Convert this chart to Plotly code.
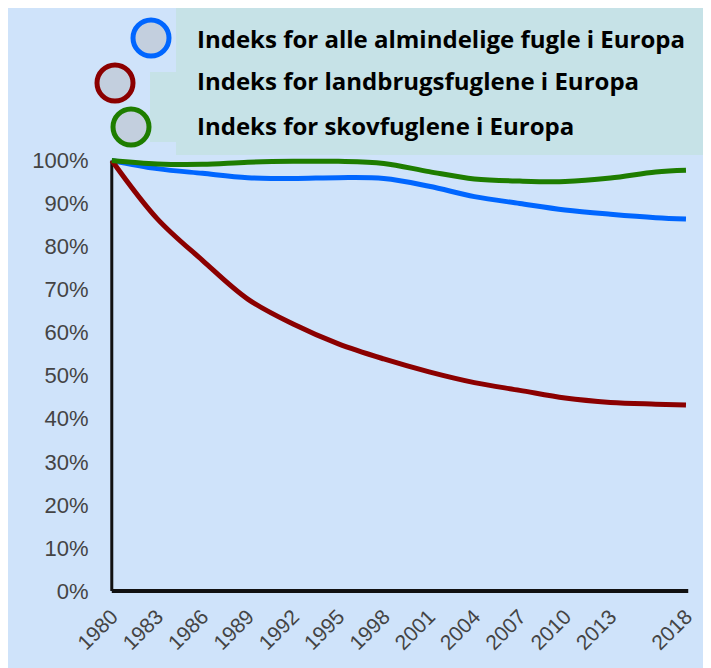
import plotly.graph_objects as go

# ---------------- data ----------------
years = [1980, 1983, 1986, 1989, 1992, 1995, 1998, 2001, 2004, 2007, 2010, 2013, 2016, 2018]
all_birds = [100, 98.1, 97.0, 96.0, 95.8, 96.0, 95.8, 94.0, 91.6, 90.0, 88.5, 87.5, 86.7, 86.4]
farm_birds = [100, 86.5, 76.8, 67.8, 62.0, 57.4, 53.9, 50.9, 48.4, 46.6, 44.8, 43.8, 43.4, 43.2]
forest_birds = [100, 99.2, 99.1, 99.6, 99.8, 99.8, 99.3, 97.4, 95.7, 95.2, 95.1, 95.9, 97.3, 97.7]

series_names = [
    "Indeks for alle almindelige fugle i Europa",
    "Indeks for landbrugsfuglene i Europa",
    "Indeks for skovfuglene i Europa",
]
x_tick_vals = [1980, 1983, 1986, 1989, 1992, 1995, 1998, 2001, 2004, 2007, 2010, 2013, 2018]
y_tick_vals = [0, 10, 20, 30, 40, 50, 60, 70, 80, 90, 100]
y_tick_text = [f"{v}%" for v in y_tick_vals]

# ---------------- style ----------------
OFF = 8  # page body margin
W, H = 711 - OFF, 668 - OFF
L, R, T, B = 108 - OFF, 22, 157 - OFF, 74
PW, PH = W - L - R, H - T - B
BG = "#CFE3FA"
TEAL = "#C6E2E7"
COLORS = ["#0066FF", "#8B0000", "#1E7D00"]


def px(xp):  # window pixel -> paper x
    return (xp - OFF - L) / PW


def py(yp):  # window pixel -> paper y
    return (H - B - (yp - OFF)) / PH


fig = go.Figure()
for name, vals, col in zip(series_names, [all_birds, farm_birds, forest_birds], COLORS):
    fig.add_trace(go.Scatter(x=years, y=vals, mode="lines", name=name,
                             line=dict(color=col, width=5, shape="spline", smoothing=1.0),
                             showlegend=False))

shapes = []
# legend box
shapes.append(dict(type="rect", xref="paper", yref="paper", x0=px(176), x1=px(W + OFF + 5),
                   y0=py(0), y1=py(155), fillcolor=TEAL, line=dict(width=0), layer="below"))
shapes.append(dict(type="rect", xref="paper", yref="paper", x0=px(150), x1=px(177),
                   y0=py(72), y1=py(142), fillcolor=TEAL, line=dict(width=0), layer="below"))
# axis lines
shapes.append(dict(type="line", xref="x", yref="y", x0=1980, x1=1980, y0=0, y1=100,
                   line=dict(color="#111111", width=3), layer="below"))
shapes.append(dict(type="line", xref="x", yref="y", x0=1980, x1=2018.15, y0=0, y1=0,
                   line=dict(color="#111111", width=4), layer="below"))
# legend circles
circles = [(151, 38), (115, 83), (131, 127)]
r = 18
for (cx, cy), col in zip(circles, COLORS):
    shapes.append(dict(type="circle", xref="paper", yref="paper",
                       x0=px(cx - r), x1=px(cx + r), y0=py(cy - r), y1=py(cy + r),
                       fillcolor="#C3CFDE", line=dict(color=col, width=5), layer="above"))

annotations = []
text_y = [38, 80, 125]
for name, ty in zip(series_names, text_y):
    annotations.append(dict(xref="paper", yref="paper", x=px(195), y=py(ty),
                            text=f"<b>{name}</b>", showarrow=False,
                            xanchor="left", yanchor="middle",
                            font=dict(family="Open Sans", size=24, color="#000000")))

fig.update_layout(
    width=W, height=H,
    margin=dict(l=L, r=R, t=T, b=B, pad=0, autoexpand=False),
    paper_bgcolor=BG, plot_bgcolor=BG,
    shapes=shapes, annotations=annotations,
    showlegend=False,
    xaxis=dict(range=[1979.75, 2018.2], tickvals=x_tick_vals, ticktext=[str(v) for v in x_tick_vals],
               tickangle=-45, showgrid=False, zeroline=False, showline=False, automargin=False,
               ticks="outside", ticklen=1, tickcolor="rgba(0,0,0,0)",
               tickfont=dict(family="Liberation Sans", size=21, color="#444444")),
    yaxis=dict(range=[-0.7, 100.8], tickvals=y_tick_vals, ticktext=y_tick_text,
               showgrid=False, zeroline=False, showline=False, automargin=False,
               ticks="outside", ticklen=14, tickcolor="rgba(0,0,0,0)",
               tickfont=dict(family="Liberation Sans", size=22, color="#444444")),
)

fig.write_html("out.html")
